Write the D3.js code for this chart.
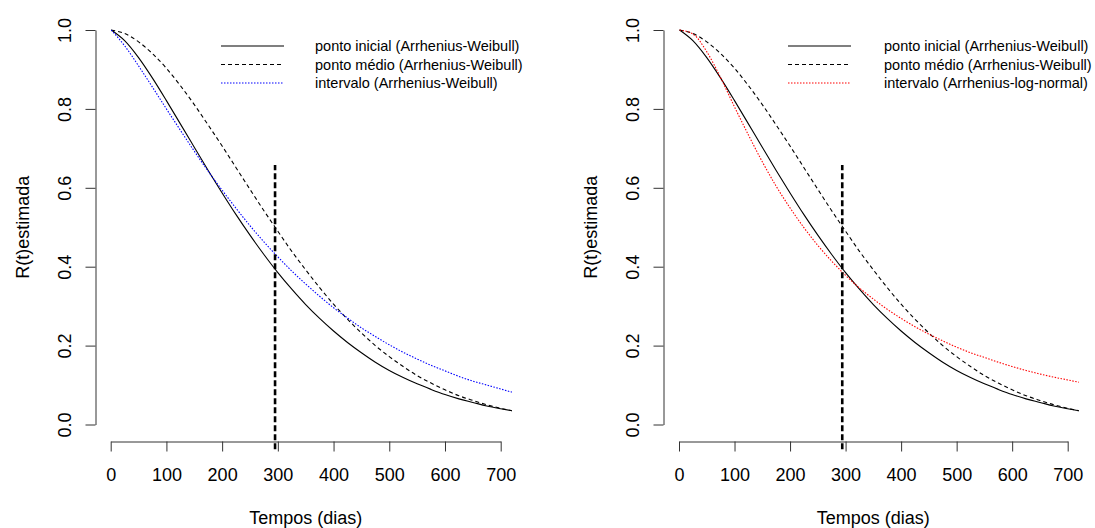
<!DOCTYPE html>
<html>
<head>
<meta charset="utf-8">
<script src="https://cdn.jsdelivr.net/npm/d3@7"></script>
<style>
  body { margin: 0; background: #fff; }
  svg { font-family: "Liberation Sans", Arial, sans-serif; }
</style>
</head>
<body>
<svg id="chart" width="1095" height="528"></svg>
<script>
// tempos (dias) where the curves were read
const tempos = [1, 25, 50, 75, 100, 125, 150, 175, 200, 225, 250, 275, 300, 325, 350,
    375, 400, 425, 450, 475, 500, 525, 550, 575, 600, 625, 650, 675, 700, 720];

// R(t) estimada, ponto inicial (Arrhenius-Weibull)
const rInicial = [1.000, 0.973, 0.930, 0.878, 0.821, 0.762, 0.703, 0.644, 0.587, 0.532,
    0.480, 0.431, 0.385, 0.343, 0.304, 0.269, 0.237, 0.208, 0.182, 0.158,
    0.137, 0.119, 0.103, 0.089, 0.076, 0.065, 0.056, 0.047, 0.040, 0.035];

// ponto medio (Arrhenius-Weibull)
const rMedio = [1.000, 0.991, 0.970, 0.940, 0.903, 0.859, 0.811, 0.759, 0.706, 0.651,
    0.596, 0.542, 0.490, 0.439, 0.392, 0.347, 0.305, 0.267, 0.232, 0.200,
    0.172, 0.147, 0.124, 0.105, 0.088, 0.073, 0.061, 0.050, 0.041, 0.035];

// intervalo (Arrhenius-Weibull)
const rIntervaloWeibull = [1.000, 0.960, 0.909, 0.855, 0.800, 0.746, 0.693, 0.642, 0.594, 0.548,
    0.504, 0.463, 0.425, 0.389, 0.356, 0.325, 0.296, 0.270, 0.245, 0.223,
    0.202, 0.183, 0.166, 0.150, 0.136, 0.122, 0.110, 0.100, 0.090, 0.082];

// intervalo (Arrhenius-log-normal)
const rIntervaloLogNormal = [1.000, 0.990, 0.945, 0.879, 0.805, 0.734, 0.666, 0.604, 0.549, 0.499,
    0.454, 0.414, 0.378, 0.346, 0.318, 0.292, 0.269, 0.248, 0.229, 0.212,
    0.196, 0.182, 0.170, 0.158, 0.147, 0.137, 0.128, 0.120, 0.113, 0.107];

const xTicks = [0, 100, 200, 300, 400, 500, 600, 700];
const yTicks = [0, 0.2, 0.4, 0.6, 0.8, 1.0];

// vertical cut line
const corteTempo = [295, 294];
const corteR = [-0.063, 0.658];

const legendLabels = ["ponto inicial (Arrhenius-Weibull)", "ponto médio (Arrhenius-Weibull)"];

const svg = d3.select("#chart");

function drawPanel(opts) {
    const x = d3.scaleLinear().domain([0, 700]).range(opts.xRange);
    const y = d3.scaleLinear().domain([0, 1]).range([424.5, 30]);

    const g = svg.append("g");

    // x axis
    const xAxis = g.append("g")
        .attr("transform", `translate(0,441.5)`)
        .call(d3.axisBottom(x).tickValues(xTicks).tickSize(10).tickSizeOuter(0).tickPadding(10)
            .tickFormat(d3.format("d")));
    xAxis.selectAll("path, line").attr("stroke", "#333");
    xAxis.selectAll("text")
        .attr("fill", "#000")
        .style("font-size", "18px")
        .attr("dy", 0)
        .attr("y", 39);

    // y axis
    const yAxis = g.append("g")
        .attr("transform", `translate(${opts.yAxisX},0)`)
        .call(d3.axisLeft(y).tickValues(yTicks).tickSize(10).tickSizeOuter(0)
            .tickFormat(d3.format(".1f")));
    yAxis.selectAll("path, line").attr("stroke", "#333");
    yAxis.selectAll("text")
        .attr("fill", "#000")
        .style("font-size", "18px")
        .attr("transform", "rotate(-90)")
        .attr("text-anchor", "middle")
        .attr("x", 0)
        .attr("dy", 0)
        .attr("y", -24.5);

    // axis titles
    g.append("text")
        .attr("x", (x(0) + x(700)) / 2)
        .attr("y", 524)
        .attr("text-anchor", "middle")
        .style("font-size", "18px")
        .text("Tempos (dias)");

    g.append("text")
        .attr("transform", `translate(${opts.yAxisX - 67},${(y(0) + y(1)) / 2}) rotate(-90)`)
        .attr("text-anchor", "middle")
        .style("font-size", "18px")
        .text("R(t)estimada");

    // curves
    const line = d3.line()
        .x(d => x(d[0]))
        .y(d => y(d[1]))
        .curve(d3.curveMonotoneX);

    const series = [
        { values: rInicial, color: "#000", dash: null },
        { values: rMedio, color: "#000", dash: "4,3" },
        { values: opts.intervalo, color: opts.color, dash: "1.5,1.5" }
    ];

    g.selectAll(".curve")
        .data(series)
        .join("path")
        .attr("class", "curve")
        .attr("d", s => line(tempos.map((t, i) => [t, s.values[i]])))
        .attr("fill", "none")
        .attr("stroke", s => s.color)
        .attr("stroke-width", 1.1)
        .attr("stroke-dasharray", s => s.dash);

    // cut line
    g.append("line")
        .attr("x1", x(opts.corte)).attr("x2", x(opts.corte))
        .attr("y1", y(corteR[0])).attr("y2", y(corteR[1]))
        .attr("stroke", "#000")
        .attr("stroke-width", 2.6)
        .attr("stroke-dasharray", "6,3");

    // legend
    const labels = legendLabels.concat([opts.legend]);
    const legend = g.append("g");
    labels.forEach((lab, i) => {
        const ly = 46 + i * 18.5;
        legend.append("line")
            .attr("x1", opts.legendX).attr("x2", opts.legendX + 63)
            .attr("y1", ly).attr("y2", ly)
            .attr("stroke", series[i].color)
            .attr("stroke-width", 1.1)
            .attr("stroke-dasharray", series[i].dash);
        legend.append("text")
            .attr("x", opts.legendTextX)
            .attr("y", ly + 5)
            .style("font-size", "14.5px")
            .text(lab);
    });
}

drawPanel({
    xRange: [110.7, 500.7], yAxisX: 95.5, intervalo: rIntervaloWeibull, color: "#0000ff",
    legend: "intervalo (Arrhenius-Weibull)", corte: corteTempo[0], legendX: 221, legendTextX: 315
});

drawPanel({
    xRange: [679, 1067.7], yAxisX: 663.5, intervalo: rIntervaloLogNormal, color: "#ff0000",
    legend: "intervalo (Arrhenius-log-normal)", corte: corteTempo[1], legendX: 788, legendTextX: 884
});
</script>
</body>
</html>
